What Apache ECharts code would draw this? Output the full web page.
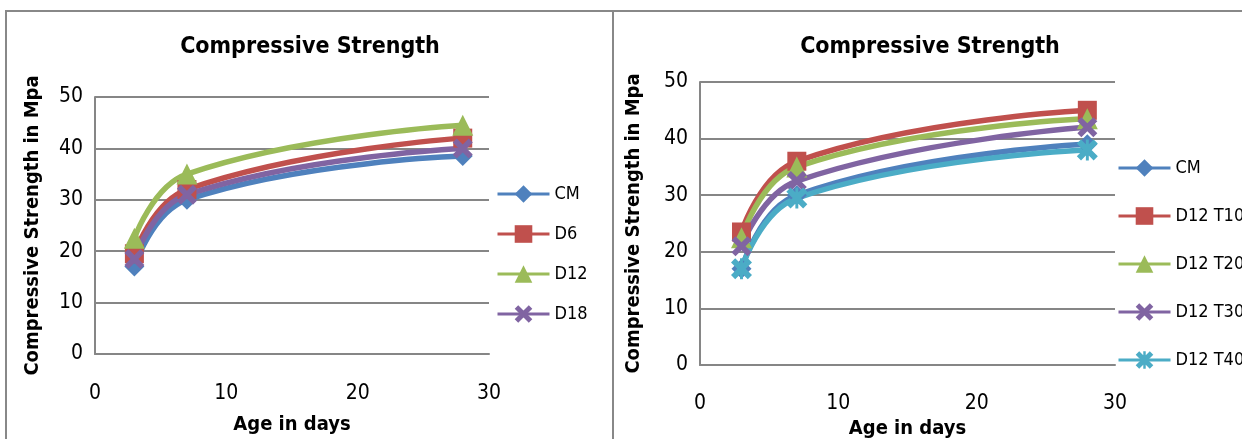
<!DOCTYPE html>
<html><head><meta charset="utf-8">
<script src="https://cdn.jsdelivr.net/npm/echarts@6/dist/echarts.min.js"></script>
<style>html,body{margin:0;padding:0;background:#fff}#c{width:1242px;height:439px}</style>
</head><body><div id="c"></div>
<script>
const ages = [3, 7, 28];
const leftNames = ['CM', 'D6', 'D12', 'D18'];
const leftCM = [17, 30, 38.5];
const leftD6 = [19.5, 32, 42];
const leftD12 = [22.5, 35, 44.5];
const leftD18 = [18.5, 31, 40];
const rightNames = ['CM', 'D12 T10', 'D12 T20', 'D12 T30', 'D12 T40'];
const rightCM = [17, 30, 39];
const rightT10 = [23.5, 36, 45];
const rightT20 = [22.5, 35, 43.5];
const rightT30 = [21, 32.5, 42];
const rightT40 = [17, 29.5, 38];
const xTicks = [0, 10, 20, 30];
const yTicks = [0, 10, 20, 30, 40, 50];

const FONT = '"Liberation Sans Narrow", "DejaVu Sans Condensed", sans-serif';
const colors = ['#4F81BD', '#C0504D', '#9BBB59', '#8064A2', '#4BACC6'];
const XSYM = 'path://M0,2 L2,0 L5,3 L8,0 L10,2 L7,5 L10,8 L8,10 L5,7 L2,10 L0,8 L3,5 Z';
const STAR = 'path://M0,2 L2,0 L5,3 L8,0 L10,2 L7,5 L10,8 L8,10 L5,7 L2,10 L0,8 L3,5 Z M4.3,0 L5.7,0 L5.7,10 L4.3,10 Z';
const symbols = ['diamond', 'rect', 'triangle', XSYM, STAR];
const symSizes = [20, 19, 21, 20, 21];
const gridColor = '#868686';

function pts(vals) { return ages.map((a, i) => [a, vals[i]]); }
function mkSeries(name, vals, idx, colorIdx, symIdx) {
  return {
    name, type: 'line', xAxisIndex: idx, yAxisIndex: idx, data: pts(vals),
    smooth: 0.45, symbol: symbols[symIdx], symbolSize: symSizes[symIdx],
    lineStyle: { color: colors[colorIdx], width: 5.5 },
    itemStyle: { color: colors[colorIdx] }, z: 3
  };
}
function xAx(idx) {
  return {
    type: 'value', gridIndex: idx, min: 0, max: 30, interval: 10,
    name: 'Age in days', nameLocation: 'middle', nameGap: idx === 0 ? 61 : 43,
    nameTextStyle: { fontFamily: FONT, fontWeight: 'bold', fontSize: 20, color: '#000' },
    axisLine: { show: true, lineStyle: { color: gridColor, width: 2 } },
    axisTick: { show: false }, splitLine: { show: false },
    axisLabel: { fontFamily: FONT, fontSize: 21, color: '#000', margin: idx === 0 ? 29 : 28,
      formatter: v => xTicks.includes(v) ? String(v) : '' }
  };
}
function yAx(idx) {
  return {
    type: 'value', gridIndex: idx, min: 0, max: 50, interval: 10,
    name: 'Compressive Strength in Mpa', nameLocation: 'middle', nameGap: idx === 0 ? 52 : 56,
    nameTextStyle: { fontFamily: FONT, fontWeight: 'bold', fontSize: 20, color: '#000' },
    axisLine: { show: true, lineStyle: { color: gridColor, width: 2 } },
    axisTick: { show: false },
    splitLine: { show: true, lineStyle: { color: gridColor, width: 2 } },
    axisLabel: { fontFamily: FONT, fontSize: 21, color: '#000', margin: 12,
      formatter: v => yTicks.includes(v) ? String(v) : '' }
  };
}

const series = [
  mkSeries('CM', leftCM, 0, 0, 0),
  mkSeries('D6', leftD6, 0, 1, 1),
  mkSeries('D12', leftD12, 0, 2, 2),
  mkSeries('D18', leftD18, 0, 3, 3),
  mkSeries('CM ', rightCM, 1, 0, 0),
  mkSeries('D12 T10', rightT10, 1, 1, 1),
  mkSeries('D12 T20', rightT20, 1, 2, 2),
  mkSeries('D12 T30', rightT30, 1, 3, 3),
  mkSeries('D12 T40', rightT40, 1, 4, 4)
];

const legendCommon = {
  orient: 'vertical', itemWidth: 52, itemHeight: 22, selectedMode: false, padding: 0,
  lineStyle: { width: 3 },
  textStyle: { fontFamily: FONT, fontSize: 18, color: '#000' }
};

const option = {
  animation: false,
  title: [
    { text: 'Compressive Strength', left: 305, top: 31, textAlign: 'center',
      textStyle: { fontFamily: FONT, fontWeight: 'bold', fontSize: 23, color: '#000' } },
    { text: 'Compressive Strength', left: 925, top: 31, textAlign: 'center',
      textStyle: { fontFamily: FONT, fontWeight: 'bold', fontSize: 23, color: '#000' } }
  ],
  grid: [
    { left: 95, top: 97, width: 394, height: 257, outerBoundsMode: 'none', containLabel: false },
    { left: 700, top: 82, width: 415, height: 283, outerBoundsMode: 'none', containLabel: false }
  ],
  xAxis: [xAx(0), xAx(1)],
  yAxis: [yAx(0), yAx(1)],
  legend: [
    Object.assign({}, legendCommon, { data: leftNames, left: 496, top: 185, itemGap: 22 }),
    Object.assign({}, legendCommon, { data: ['CM ', 'D12 T10', 'D12 T20', 'D12 T30', 'D12 T40'],
      left: 1117, top: 159, itemGap: 30, formatter: n => n.trim() })
  ],
  series,
  graphic: [
    { type: 'line', shape: { x1: 5, y1: 11, x2: 1242, y2: 11 }, style: { stroke: '#888', lineWidth: 2 } },
    { type: 'line', shape: { x1: 6, y1: 11, x2: 6, y2: 439 }, style: { stroke: '#888', lineWidth: 2 } },
    { type: 'line', shape: { x1: 613, y1: 11, x2: 613, y2: 439 }, style: { stroke: '#888', lineWidth: 2 } }
  ]
};
const chart = echarts.init(document.getElementById('c'), null, { renderer: 'canvas' });
chart.setOption(option);
</script></body></html>
